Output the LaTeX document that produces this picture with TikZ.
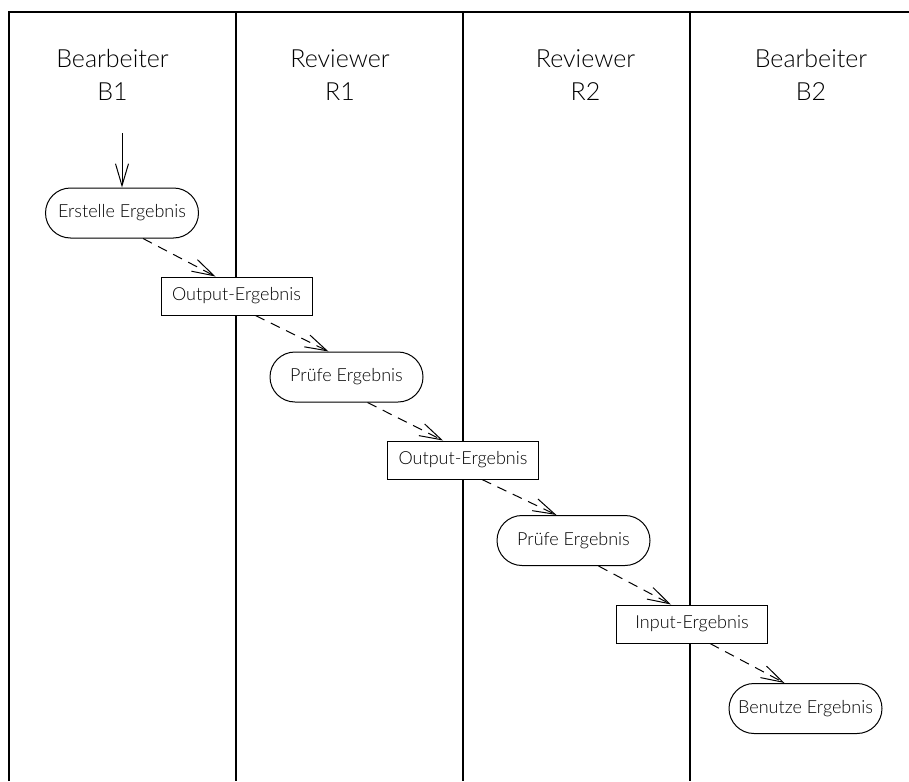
\documentclass[tikz,border=0pt]{standalone}
\usepackage{fontspec}
\setmainfont{Lato}[UprightFont={* Light}]
\usetikzlibrary{arrows.meta,shapes.misc,calc}
\tikzset{
  lane/.style={line width=1.3pt},
  act/.style={rounded rectangle, draw, fill=white, line width=1pt, minimum width=153pt, minimum height=50pt, inner sep=0pt, font=\fontsize{18}{22}\selectfont},
  obj/.style={rectangle, draw, fill=white, line width=1pt, minimum width=151pt, minimum height=38pt, inner sep=0pt, font=\fontsize{18}{22}\selectfont},
  head/.style={anchor=base, inner sep=0pt, font=\fontsize{25}{30}\selectfont},
  tip/.style={-{Straight Barb[length=22pt,width=13pt,line width=1pt]}},
  flow/.style={tip, line width=1pt, dash pattern=on 10pt off 7pt},
  startflow/.style={tip, line width=1pt}
}
\begin{document}
\begin{tikzpicture}[x=1pt,y=-1pt]
\useasboundingbox (0,0) rectangle (909,781);
% frame and swimlanes
\coordinate (tl) at (9,12);
\coordinate (tr) at (909,12);
\coordinate (bl) at (9,781);
\draw[lane] (bl) -- (tl) -- (tr);
\coordinate (l1t) at (236,12); \coordinate (l1b) at (236,781);
\coordinate (l2t) at (463,12); \coordinate (l2b) at (463,781);
\coordinate (l3t) at (690,12); \coordinate (l3b) at (690,781);
\draw[lane] (l1t) -- (l1b);
\draw[lane] (l2t) -- (l2b);
\draw[lane] (l3t) -- (l3b);
% headers
\node[head] (hb1) at (112.5,68) {Bearbeiter};
\node[head] (hb1n) at (112.5,100) {B1};
\node[head] (hr1) at (340,68) {Reviewer};
\node[head] (hr1n) at (340,100) {R1};
\node[head] (hr2) at (585.5,68) {Reviewer};
\node[head] (hr2n) at (585.5,100) {R2};
\node[head] (hb2) at (811,68) {Bearbeiter};
\node[head] (hb2n) at (811,100) {B2};
% nodes
\node[act] (e1) at (122,213) {Erstelle Ergebnis};
\node[obj] (o1) at (236.5,296) {Output-Ergebnis};
\node[act] (p1) at (346.5,377) {Prüfe Ergebnis};
\node[obj] (o2) at (463,460) {Output-Ergebnis};
\node[act] (p2) at (573.5,540.5) {Prüfe Ergebnis};
\node[obj] (i1) at (692,624) {Input-Ergebnis};
\node[act] (b1) at (805.5,708.5) {Benutze Ergebnis};
% start
\coordinate (start) at (122,133);
\draw[startflow] (start) -- (e1.north);
% flows
\draw[flow] ($(e1.south)+(21,0)$) -- ($(o1.north)+(-21,0)$);
\draw[flow] ($(o1.south)+(19,0)$) -- ($(p1.north)+(-18,0)$);
\draw[flow] ($(p1.south)+(21,0)$) -- ($(o2.north)+(-20,0)$);
\draw[flow] ($(o2.south)+(19,0)$) -- ($(p2.north)+(-17,0)$);
\draw[flow] ($(p2.south)+(25,0)$) -- ($(i1.north)+(-21,0)$);
\draw[flow] ($(i1.south)+(18,0)$) -- ($(b1.north)+(-21,0)$);
\end{tikzpicture}
\end{document}
